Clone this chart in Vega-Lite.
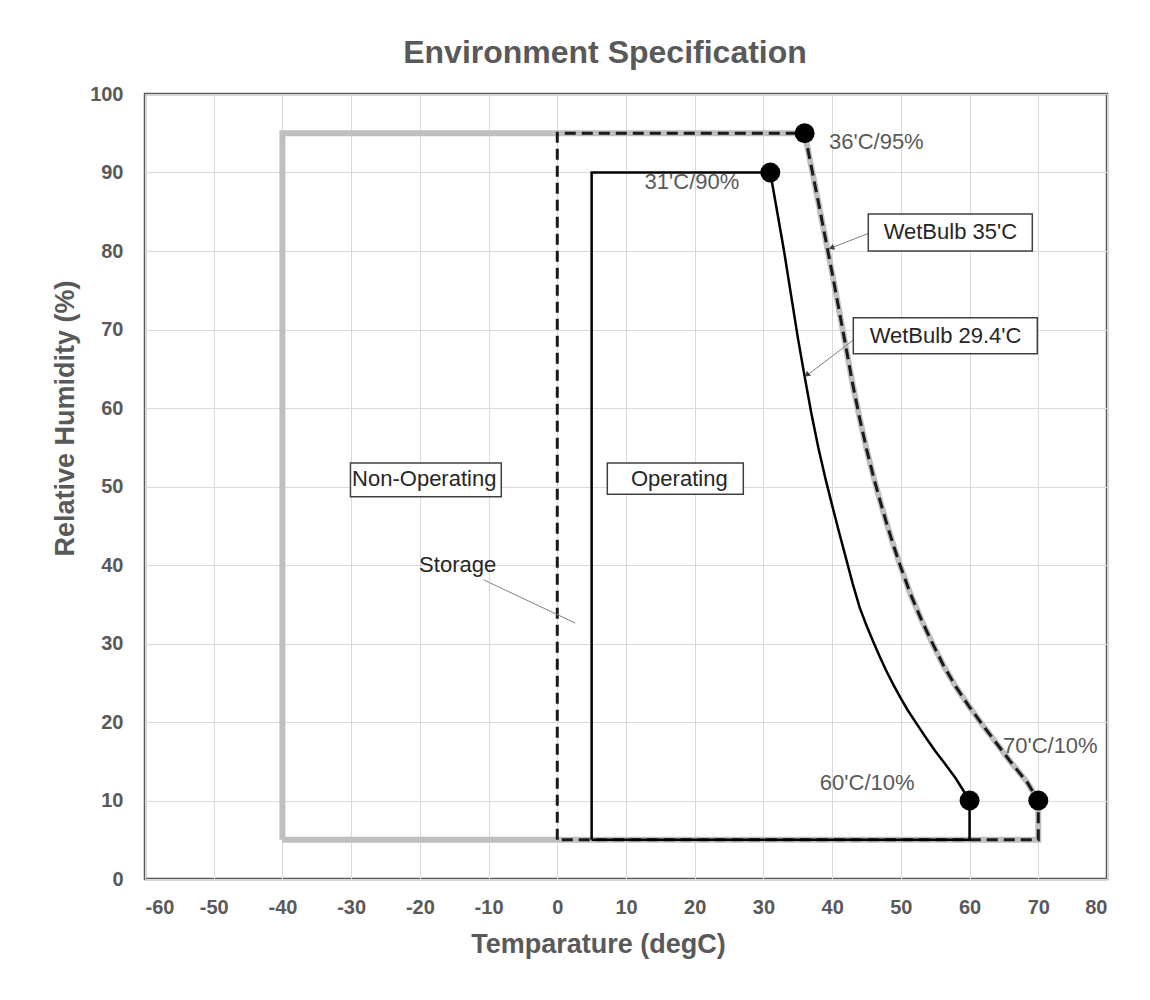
{
  "$schema": "https://vega.github.io/schema/vega-lite/v6.json",
  "autosize": {"type": "none"},
  "width": 962,
  "height": 785,
  "padding": {"left": 145, "top": 94, "right": 43, "bottom": 121},
  "background": "white",
  "config": {
    "font": "Liberation Sans",
    "view": {"stroke": "#595959", "strokeWidth": 2.5},
    "axis": {
      "grid": true, "gridColor": "#d9d9d9", "gridWidth": 1,
      "domain": false, "ticks": false,
      "labelFont": "Liberation Sans", "labelFontWeight": "bold", "labelFontSize": 20, "labelColor": "#595959",
      "titleFont": "Liberation Sans", "titleFontWeight": "bold", "titleFontSize": 27, "titleColor": "#595959"
    }
  },
  "title": {
    "text": "Environment Specification",
    "font": "Liberation Sans", "fontSize": 32, "fontWeight": "bold", "color": "#595959",
    "anchor": "middle", "dx": -21, "offset": 14
  },
  "datasets": {
    "storage": [
      {"i": 0, "T": -40, "RH": 5}, {"i": 1, "T": -40, "RH": 95}, {"i": 2, "T": 36, "RH": 95},
      {"i": 3, "T": 38, "RH": 86.2}, {"i": 4, "T": 40, "RH": 77.2}, {"i": 5, "T": 42, "RH": 67.8},
      {"i": 6, "T": 43, "RH": 63}, {"i": 7, "T": 44, "RH": 58.7}, {"i": 8, "T": 45, "RH": 54.8},
      {"i": 9, "T": 46, "RH": 51.3}, {"i": 10, "T": 47, "RH": 48.1}, {"i": 11, "T": 48, "RH": 45.1},
      {"i": 12, "T": 49, "RH": 42.3}, {"i": 13, "T": 50, "RH": 39.7}, {"i": 14, "T": 51.4, "RH": 36.3},
      {"i": 15, "T": 53, "RH": 33}, {"i": 16, "T": 54.5, "RH": 30.2}, {"i": 17, "T": 56.2, "RH": 27.2},
      {"i": 18, "T": 58, "RH": 24.5}, {"i": 19, "T": 60, "RH": 21.9}, {"i": 20, "T": 62, "RH": 19.5},
      {"i": 21, "T": 64, "RH": 17.2}, {"i": 22, "T": 66, "RH": 14.9}, {"i": 23, "T": 68.4, "RH": 12.3},
      {"i": 24, "T": 70, "RH": 10}, {"i": 25, "T": 70, "RH": 5}, {"i": 26, "T": -40, "RH": 5}
    ],
    "wb35": [
      {"i": 0, "T": 0, "RH": 5}, {"i": 1, "T": 0, "RH": 95}, {"i": 2, "T": 36, "RH": 95},
      {"i": 3, "T": 38, "RH": 86.2}, {"i": 4, "T": 40, "RH": 77.2}, {"i": 5, "T": 42, "RH": 67.8},
      {"i": 6, "T": 43, "RH": 63}, {"i": 7, "T": 44, "RH": 58.7}, {"i": 8, "T": 45, "RH": 54.8},
      {"i": 9, "T": 46, "RH": 51.3}, {"i": 10, "T": 47, "RH": 48.1}, {"i": 11, "T": 48, "RH": 45.1},
      {"i": 12, "T": 49, "RH": 42.3}, {"i": 13, "T": 50, "RH": 39.7}, {"i": 14, "T": 51.4, "RH": 36.3},
      {"i": 15, "T": 53, "RH": 33}, {"i": 16, "T": 54.5, "RH": 30.2}, {"i": 17, "T": 56.2, "RH": 27.2},
      {"i": 18, "T": 58, "RH": 24.5}, {"i": 19, "T": 60, "RH": 21.9}, {"i": 20, "T": 62, "RH": 19.5},
      {"i": 21, "T": 64, "RH": 17.2}, {"i": 22, "T": 66, "RH": 14.9}, {"i": 23, "T": 68.4, "RH": 12.3},
      {"i": 24, "T": 70, "RH": 10}, {"i": 25, "T": 70, "RH": 5}, {"i": 26, "T": 0, "RH": 5}
    ],
    "wb294": [
      {"i": 0, "T": 5, "RH": 5}, {"i": 1, "T": 5, "RH": 90}, {"i": 2, "T": 31, "RH": 90},
      {"i": 3, "T": 32, "RH": 85}, {"i": 4, "T": 33, "RH": 80}, {"i": 5, "T": 34, "RH": 74.5},
      {"i": 6, "T": 35, "RH": 69}, {"i": 7, "T": 36, "RH": 64}, {"i": 8, "T": 37, "RH": 59.2},
      {"i": 9, "T": 38, "RH": 54.9}, {"i": 10, "T": 39, "RH": 51.1}, {"i": 11, "T": 40, "RH": 47.6},
      {"i": 12, "T": 41, "RH": 44.2}, {"i": 13, "T": 42, "RH": 40.9}, {"i": 14, "T": 43, "RH": 37.6},
      {"i": 15, "T": 44, "RH": 34.6}, {"i": 16, "T": 45, "RH": 32.3}, {"i": 17, "T": 46, "RH": 30.2},
      {"i": 18, "T": 47, "RH": 28.2}, {"i": 19, "T": 48, "RH": 26.3}, {"i": 20, "T": 49, "RH": 24.6},
      {"i": 21, "T": 50, "RH": 23}, {"i": 22, "T": 51, "RH": 21.5}, {"i": 23, "T": 52.5, "RH": 19.5},
      {"i": 24, "T": 53.8, "RH": 17.8}, {"i": 25, "T": 55, "RH": 16.3}, {"i": 26, "T": 56.5, "RH": 14.6},
      {"i": 27, "T": 58, "RH": 12.8}, {"i": 28, "T": 59, "RH": 11.4}, {"i": 29, "T": 60, "RH": 10},
      {"i": 30, "T": 60, "RH": 5}, {"i": 31, "T": 5, "RH": 5}
    ],
    "markers": [
      {"T": 36, "RH": 95}, {"T": 31, "RH": 90}, {"T": 60, "RH": 10}, {"T": 70, "RH": 10}
    ],
    "pointLabels": [
      {"label": "36'C/95%", "T": 46.43, "RH": 93.9},
      {"label": "31'C/90%", "T": 19.6, "RH": 88.8},
      {"label": "60'C/10%", "T": 45.1, "RH": 12.2},
      {"label": "70'C/10%", "T": 71.75, "RH": 16.9}
    ],
    "boxes": [
      {"x1": 45.26, "x2": 69.13, "y1": 84.7, "y2": 80.0},
      {"x1": 43.08, "x2": 69.86, "y1": 71.5, "y2": 66.9},
      {"x1": -30.1, "x2": -8.15, "y1": 53.0, "y2": 48.7},
      {"x1": 7.28, "x2": 27.07, "y1": 53.0, "y2": 49.0}
    ],
    "boxLabels": [
      {"label": "WetBulb 35'C", "T": 57.2, "RH": 82.4},
      {"label": "WetBulb 29.4'C", "T": 56.5, "RH": 69.2},
      {"label": "Non-Operating", "T": -19.36, "RH": 50.9},
      {"label": "Operating", "T": 17.76, "RH": 51.0},
      {"label": "Storage", "T": -14.5, "RH": 40.0}
    ],
    "leaders": [
      {"x1": 45.3, "y1": 82.25, "x2": 39.73, "y2": 80.35},
      {"x1": 44.35, "y1": 69.5, "x2": 36.1, "y2": 64.0},
      {"x1": -10.7, "y1": 38.1, "x2": 2.62, "y2": 32.6}
    ],
    "arrows": [
      {"T": 39.9, "RH": 80.4, "ang": -21.5},
      {"T": 36.3, "RH": 64.2, "ang": -37.7}
    ]
  },
  "layer": [
    {
      "data": {"name": "storage"},
      "mark": {"type": "line", "color": "#bfbfbf", "strokeWidth": 6, "strokeJoin": "miter"},
      "encoding": {
        "x": {"field": "T", "type": "quantitative", "scale": {"domain": [-60, 80], "nice": false},
              "axis": {"values": [-60, -50, -40, -30, -20, -10, 0, 10, 20, 30, 40, 50, 60, 70, 80], "labelExpr": "'' + datum.value", "title": "Temparature (degC)", "labelPadding": 18, "titlePadding": 14, "titleX": 453}},
        "y": {"field": "RH", "type": "quantitative", "scale": {"domain": [0, 100], "nice": false},
              "axis": {"values": [0, 10, 20, 30, 40, 50, 60, 70, 80, 90, 100], "labelExpr": "'' + datum.value", "title": "Relative Humidity (%)", "labelPadding": 22, "titlePadding": 10, "titleY": 324}},
        "order": {"field": "i", "type": "quantitative"}
      }
    },
    {
      "data": {"name": "wb35"},
      "mark": {"type": "line", "color": "#1a1a1a", "strokeWidth": 3, "strokeDash": [11, 6]},
      "encoding": {
        "x": {"field": "T", "type": "quantitative"},
        "y": {"field": "RH", "type": "quantitative"},
        "order": {"field": "i", "type": "quantitative"}
      }
    },
    {
      "data": {"name": "wb294"},
      "mark": {"type": "line", "color": "#000000", "strokeWidth": 2.5},
      "encoding": {
        "x": {"field": "T", "type": "quantitative"},
        "y": {"field": "RH", "type": "quantitative"},
        "order": {"field": "i", "type": "quantitative"}
      }
    },
    {
      "data": {"name": "markers"},
      "mark": {"type": "point", "filled": true, "color": "#000000", "size": 400, "opacity": 1},
      "encoding": {
        "x": {"field": "T", "type": "quantitative"},
        "y": {"field": "RH", "type": "quantitative"}
      }
    },
    {
      "data": {"name": "leaders"},
      "mark": {"type": "rule", "color": "#808080", "strokeWidth": 1},
      "encoding": {
        "x": {"field": "x1", "type": "quantitative"},
        "y": {"field": "y1", "type": "quantitative"},
        "x2": {"field": "x2"},
        "y2": {"field": "y2"}
      }
    },
    {
      "data": {"name": "arrows"},
      "mark": {"type": "point", "shape": "triangle-left", "filled": true, "color": "#404040", "size": 40, "opacity": 1},
      "encoding": {
        "x": {"field": "T", "type": "quantitative"},
        "y": {"field": "RH", "type": "quantitative"},
        "angle": {"field": "ang", "type": "quantitative", "scale": null}
      }
    },
    {
      "data": {"name": "boxes"},
      "mark": {"type": "rect", "fill": "white", "stroke": "#404040", "strokeWidth": 1.5},
      "encoding": {
        "x": {"field": "x1", "type": "quantitative"},
        "x2": {"field": "x2"},
        "y": {"field": "y1", "type": "quantitative"},
        "y2": {"field": "y2"}
      }
    },
    {
      "data": {"name": "boxLabels"},
      "mark": {"type": "text", "font": "Liberation Sans", "fontSize": 22, "color": "#262626", "align": "center", "baseline": "middle"},
      "encoding": {
        "x": {"field": "T", "type": "quantitative"},
        "y": {"field": "RH", "type": "quantitative"},
        "text": {"field": "label"}
      }
    },
    {
      "data": {"name": "pointLabels"},
      "mark": {"type": "text", "font": "Liberation Sans", "fontSize": 22, "color": "#595959", "align": "center", "baseline": "middle"},
      "encoding": {
        "x": {"field": "T", "type": "quantitative"},
        "y": {"field": "RH", "type": "quantitative"},
        "text": {"field": "label"}
      }
    }
  ]
}
